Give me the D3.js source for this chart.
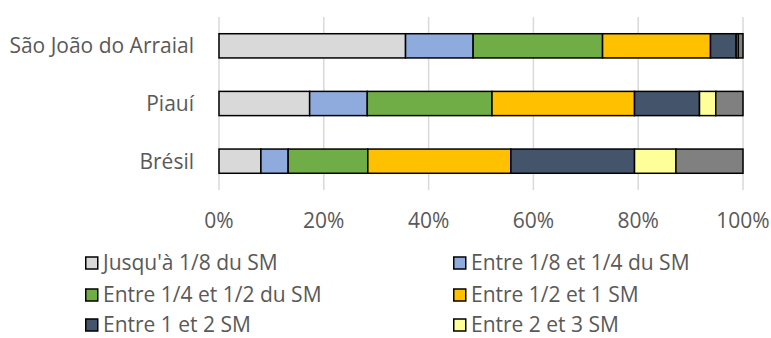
<!DOCTYPE html>
<html>
<head>
<meta charset="utf-8">
<script src="https://cdn.jsdelivr.net/npm/d3@7"></script>
<style>
  html, body { margin: 0; padding: 0; background: #fff; }
  svg { display: block; }
  text { font-family: "Open Sans", "Noto Sans", sans-serif; fill: #595959; }
</style>
</head>
<body>
<svg id="chart" width="771" height="338"></svg>
<script>
// Income distribution by bracket of the minimum wage (SM), in percent
const regions = ["São João do Arraial", "Piauí", "Brésil"];
const brackets = [
  "Jusqu'à 1/8 du SM",
  "Entre 1/8 et 1/4 du SM",
  "Entre 1/4 et 1/2 du SM",
  "Entre 1/2 et 1 SM",
  "Entre 1 et 2 SM",
  "Entre 2 et 3 SM",
  "Plus de 3 SM"
];
const saoJoao = [35.6, 12.9, 24.7, 20.6, 4.9, 0.4, 0.9];
const piaui   = [17.3, 11.0, 23.8, 27.2, 12.4, 3.1, 5.2];
const bresil  = [8.0, 5.2, 15.2, 27.3, 23.6, 7.9, 12.8];
const tickValues = [0, 20, 40, 60, 80, 100];
const colors = ["#D9D9D9", "#8FAADC", "#70AD47", "#FFC000", "#44546A", "#FFFF99", "#808080"];
// legend shows the first six brackets
const legendCount = 6;

const rows = [saoJoao, piaui, bresil].map((vals, i) => {
  const r = { region: regions[i] };
  brackets.forEach((b, j) => r[b] = vals[j]);
  return r;
});

const svg = d3.select("#chart");
const plot = { left: 219, right: 743, top: 17, bottom: 190 };
const fontSize = 21;

const x = d3.scaleLinear().domain([0, 100]).range([plot.left, plot.right]);
const y = d3.scaleBand().domain(regions).range([plot.top, plot.bottom]).paddingInner(0.58).paddingOuter(0.29);
const color = d3.scaleOrdinal().domain(brackets).range(colors);

// vertical gridlines
svg.append("g")
  .selectAll("line")
  .data(tickValues)
  .join("line")
  .attr("x1", d => x(d)).attr("x2", d => x(d))
  .attr("y1", plot.top).attr("y2", plot.bottom)
  .attr("stroke", "#D9D9D9").attr("stroke-width", 1.5);

// stacked bars
const stacked = d3.stack().keys(brackets)(rows);
svg.append("g")
  .selectAll("g")
  .data(stacked)
  .join("g")
  .attr("fill", d => color(d.key))
  .selectAll("rect")
  .data(d => d)
  .join("rect")
  .attr("x", d => x(d[0]))
  .attr("width", d => x(d[1]) - x(d[0]))
  .attr("y", d => y(d.data.region))
  .attr("height", y.bandwidth())
  .attr("stroke", "#000").attr("stroke-width", 1.5);

// category labels
svg.append("g")
  .selectAll("text")
  .data(regions)
  .join("text")
  .attr("x", plot.left - 25)
  .attr("y", d => y(d) + y.bandwidth() / 2)
  .attr("dy", "0.35em")
  .attr("text-anchor", "end")
  .attr("font-size", fontSize)
  .text(d => d);

// x axis tick labels
svg.append("g")
  .selectAll("text")
  .data(tickValues)
  .join("text")
  .attr("x", d => x(d))
  .attr("y", 221)
  .attr("dy", "0.35em")
  .attr("text-anchor", "middle")
  .attr("font-size", fontSize)
  .text(d => d + "%");

// legend
const legendX = [85, 453];
const legendY = [263, 295, 325];
const legend = svg.append("g")
  .selectAll("g")
  .data(brackets.slice(0, legendCount))
  .join("g")
  .attr("transform", (d, i) => `translate(${legendX[i % 2]},${legendY[Math.floor(i / 2)]})`);
legend.append("rect")
  .attr("x", 0.75).attr("y", -6)
  .attr("width", 12).attr("height", 12)
  .attr("fill", d => color(d))
  .attr("stroke", "#000").attr("stroke-width", 1.5);
legend.append("text")
  .attr("x", 18)
  .attr("dy", "0.35em")
  .attr("font-size", fontSize)
  .text(d => d);
</script>
</body>
</html>
